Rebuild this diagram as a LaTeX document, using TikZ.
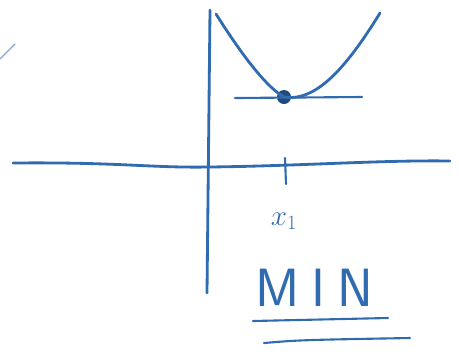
\documentclass[tikz,border=0pt]{standalone}
\usetikzlibrary{positioning}
\definecolor{inkblue}{HTML}{2F6BAE}

\begin{document}
\begin{tikzpicture}[
    ink/.style={draw=inkblue, line width=2.4pt, line cap=round, line join=round},
    thin ink/.style={ink, line width=1.8pt},
    dotmark/.style={circle, fill=inkblue!70!black, inner sep=0pt, minimum size=4.2mm},
    note/.style={text=inkblue, inner sep=0pt},
    x=0.03cm, y=-0.03cm]

    \useasboundingbox (0, 0) rectangle (459, 360);

    % ----- axes
    \coordinate (yt) at (210, 10);
    \coordinate (yb) at (207, 293);
    \coordinate (xl) at (13, 163);
    \coordinate (xr) at (450, 161);
    \draw[ink] (yt) -- (yb);
    \draw[ink] (xl) .. controls (120, 162) and (150, 168) .. (209, 167)
        .. controls (300, 166) and (380, 160) .. (xr);

    % ----- the curve with its minimum and the flat tangent there
    \node[dotmark] (min) at (284, 97) {};
    \coordinate (cl) at (216, 14);
    \coordinate (cr) at (380, 13);
    \draw[ink] (cl) .. controls (245, 60) and (268, 88) .. (min.center)
        .. controls (315, 102) and (345, 70) .. (cr);
    \coordinate (tl) at (235, 98);
    \coordinate (tr) at (362, 97);
    \draw[thin ink] (tl) -- (tr);

    % ----- tick and label on the x axis
    \coordinate (tk) at (285, 158);
    \coordinate (tkb) at (286, 184);
    \draw[thin ink] (tk) -- (tkb);
    \node[note, font=\fontsize{25}{25}\selectfont] (xone) at (284, 221) {$x_1$};

    % ----- the caption, underlined twice
    \node[note, font=\fontsize{46}{46}\selectfont\sffamily] (cap) at (314, 288)
        {M\hspace{0.22em}I\hspace{0.22em}N};
    \coordinate (u1l) at (253, 321);
    \coordinate (u1r) at (388, 318);
    \coordinate (u2l) at (264, 343);
    \coordinate (u2r) at (410, 338);
    \draw[thin ink] (u1l) -- (u1r);
    \draw[thin ink] (u2l) .. controls (300, 340) .. (u2r);

    % ----- stray stroke at the left edge
    \coordinate (sa) at (0, 59);
    \coordinate (sb) at (15, 44);
    \draw[draw=inkblue!60, line width=1pt, line cap=round] (sa) -- (sb);
\end{tikzpicture}
\end{document}
